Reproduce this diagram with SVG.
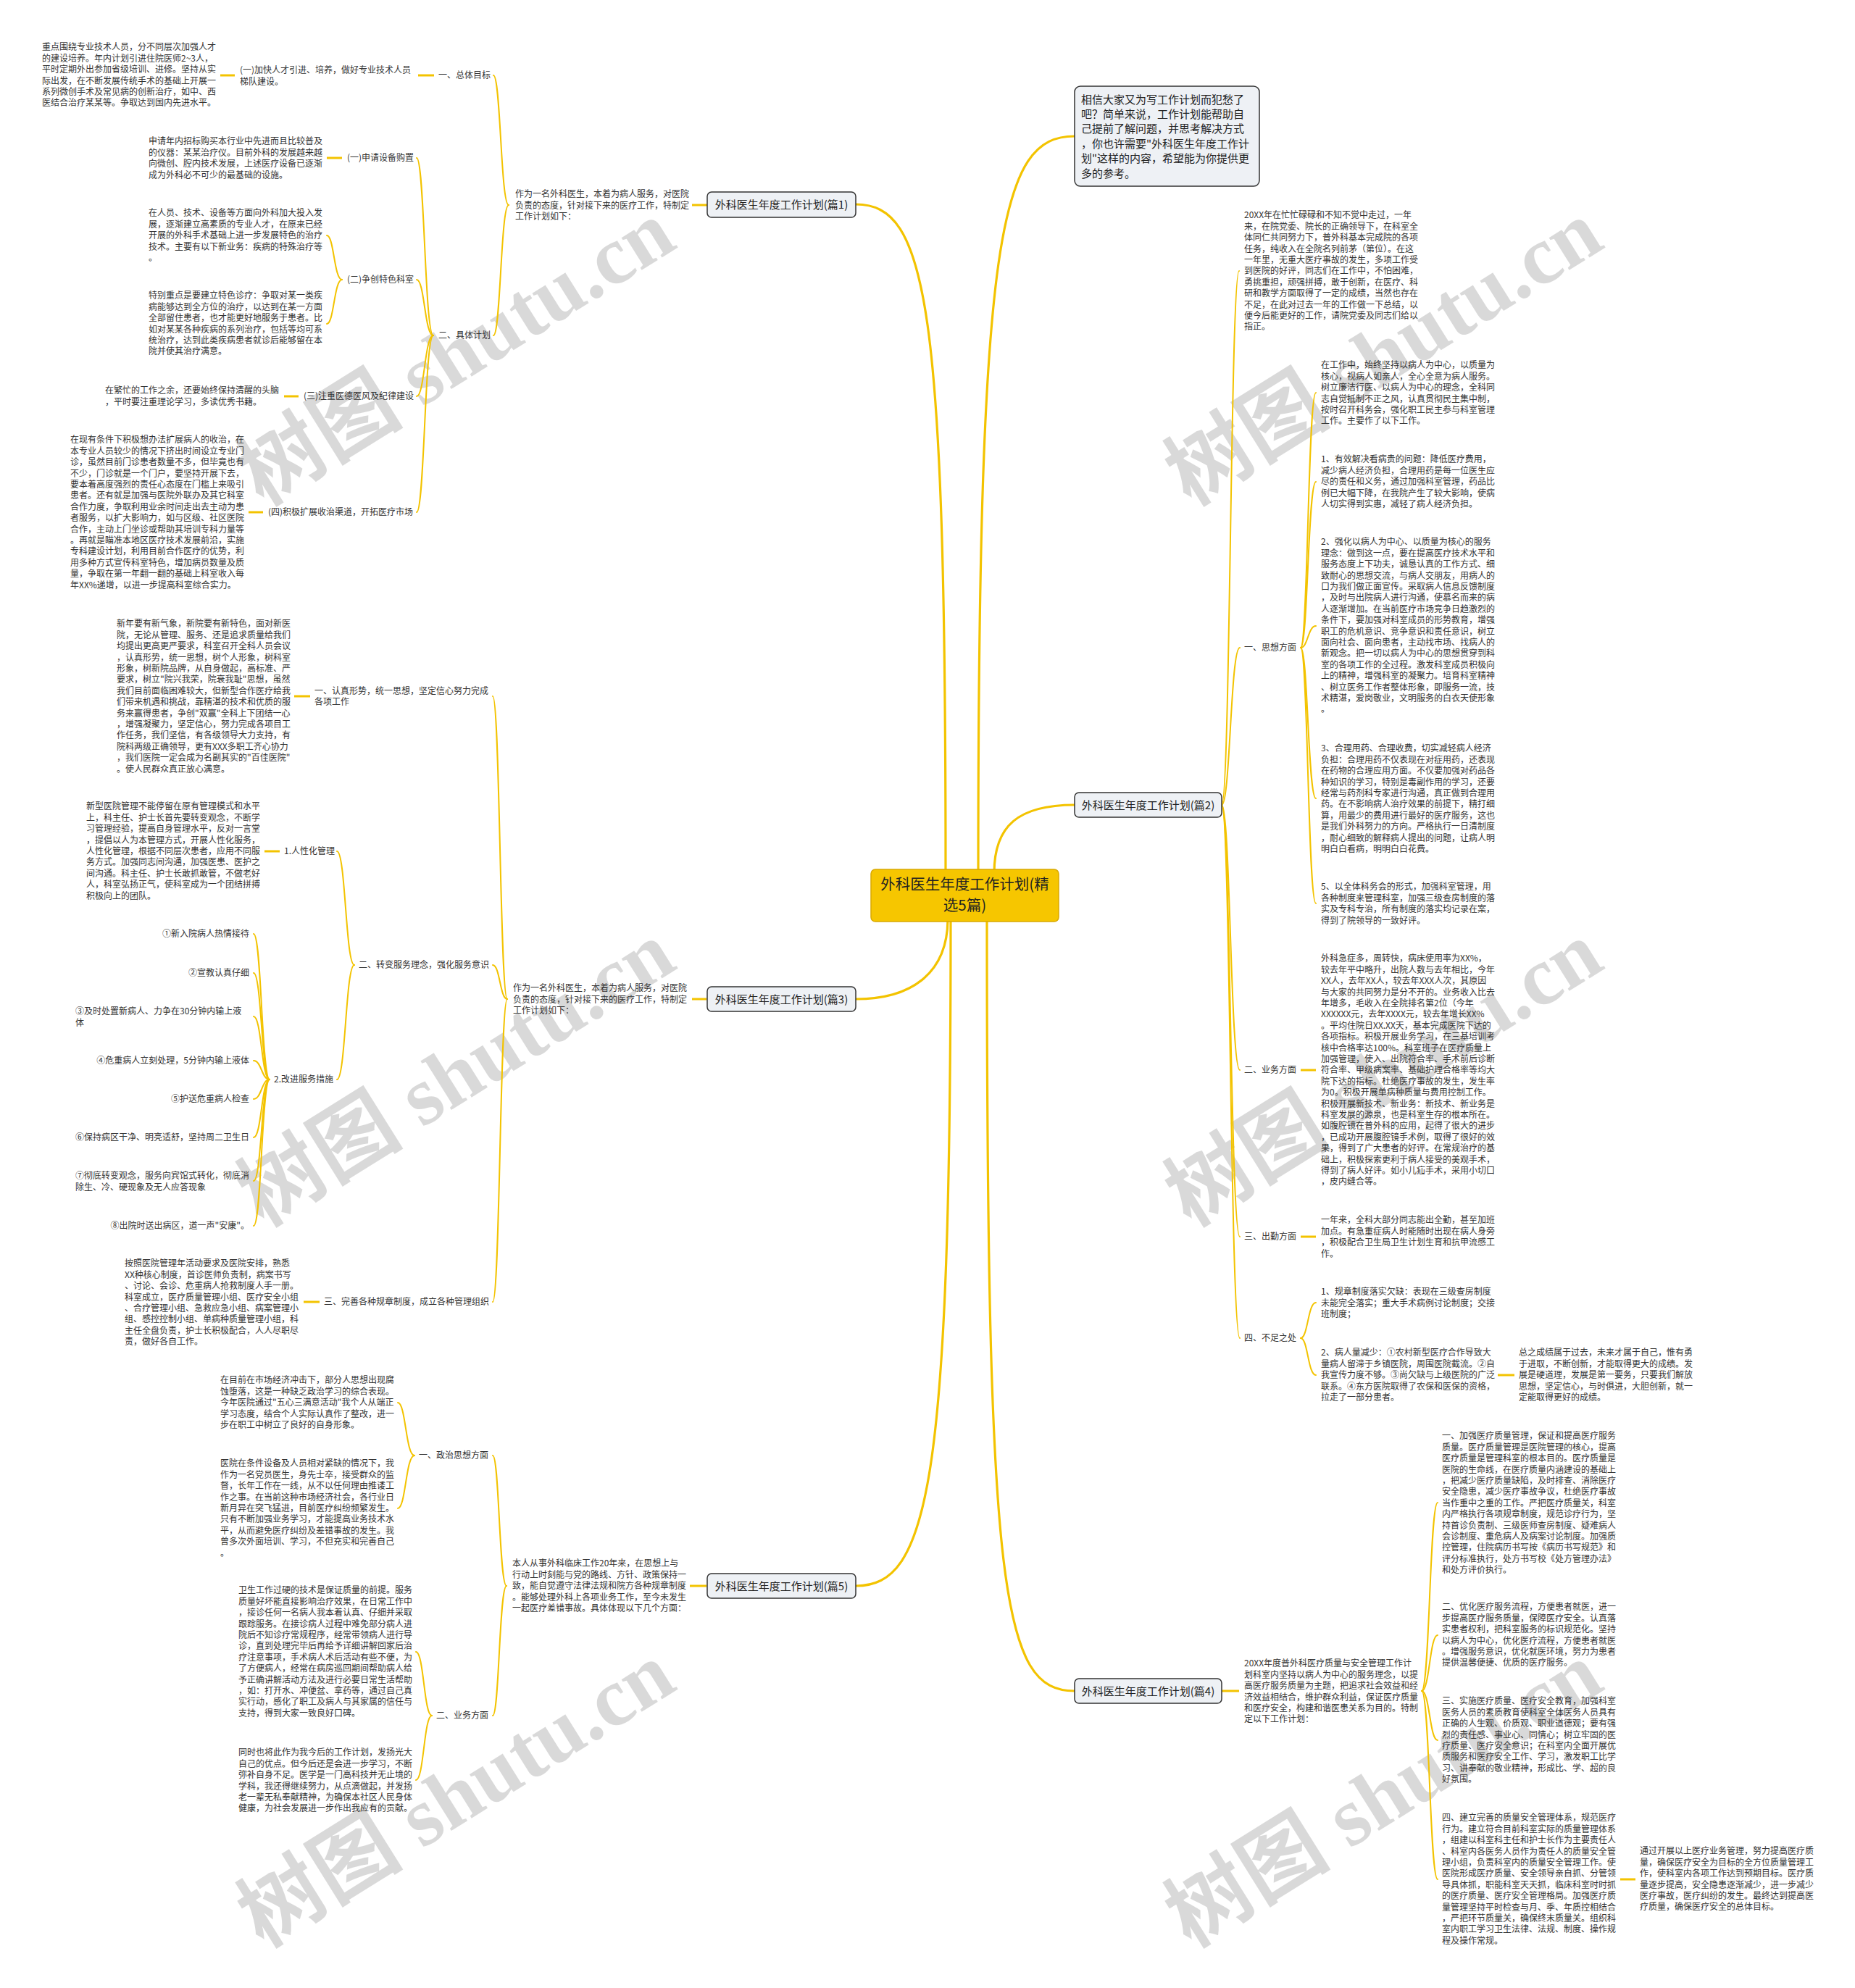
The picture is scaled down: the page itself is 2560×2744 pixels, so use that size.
<svg xmlns="http://www.w3.org/2000/svg" width="2560" height="2744" viewBox="0 0 2560 2744">
<style>
.t{font-family:"Noto Sans CJK SC","Liberation Sans",sans-serif;font-size:12px;fill:#333}
.e{text-anchor:end}
.nt{font-family:"Noto Sans CJK SC","Liberation Sans",sans-serif;font-size:15px;fill:#222;text-anchor:middle}
.ct{font-family:"Noto Sans CJK SC","Liberation Sans",sans-serif;font-size:20.5px;fill:#222;text-anchor:middle}
.bt{font-family:"Noto Sans CJK SC","Liberation Sans",sans-serif;font-size:15px;fill:#222}
.box{fill:#EEF1F5;stroke:#333;stroke-width:1.5}
.c{fill:none;stroke:#F3C300;stroke-width:2;stroke-linecap:round}
.s{fill:none;stroke:#F3C300;stroke-width:3}
.m{fill:none;stroke:#F3C300;stroke-width:3.2;stroke-linecap:round}
.wm{font-family:"Liberation Serif","Noto Sans CJK SC",serif;font-weight:bold;font-size:115px;fill:#000;fill-opacity:0.15;text-anchor:middle}
</style>
<rect width="2560" height="2744" fill="#fff"/>
<g id="watermarks">
<text class="wm" transform="translate(650,520) rotate(-32)">树图 shutu.cn</text>
<text class="wm" transform="translate(1930,520) rotate(-32)">树图 shutu.cn</text>
<text class="wm" transform="translate(650,1515) rotate(-32)">树图 shutu.cn</text>
<text class="wm" transform="translate(1930,1515) rotate(-32)">树图 shutu.cn</text>
<text class="wm" transform="translate(650,2510) rotate(-32)">树图 shutu.cn</text>
<text class="wm" transform="translate(1930,2510) rotate(-32)">树图 shutu.cn</text>
</g>
<g id="connectors">
<path class="m" d="M1181,282 C1280,282 1305,420 1305,1205"/>
<path class="m" d="M1483,188 C1380,188 1350,320 1350,1205"/>
<path class="m" d="M1483,1111 C1405,1111 1372,1140 1372,1205"/>
<path class="m" d="M1181,1379 C1262,1379 1308,1340 1308,1268"/>
<path class="m" d="M1181,2189 C1282,2189 1312,2050 1312,1268"/>
<path class="m" d="M1483,2334 C1382,2334 1362,2200 1362,1268"/>
<path class="s" d="M955,283 H977"/>
<path class="c" d="M702,283 C691,283 691,104 681,104"/>
<path class="c" d="M702,283 C691,283 691,463 681,463"/>
<path class="s" d="M577,104 H599"/>
<path class="s" d="M304,104 H324"/>
<path class="c" d="M598,463 C586,463 586,218 575,218"/>
<path class="c" d="M598,463 C586,463 586,386 575,386"/>
<path class="c" d="M598,463 C586,463 586,547 575,547"/>
<path class="c" d="M598,463 C586,463 586,707 575,707"/>
<path class="s" d="M451,218 H472"/>
<path class="c" d="M472,386 C461,386 461,325 451,325"/>
<path class="c" d="M472,386 C461,386 461,447 451,447"/>
<path class="s" d="M392,547 H412"/>
<path class="s" d="M343,707 H363"/>
<path class="c" d="M1686,1111 C1698,1111 1698,374 1710,374"/>
<path class="c" d="M1686,1111 C1698,1111 1698,894 1711,894"/>
<path class="c" d="M1686,1111 C1698,1111 1698,1477 1711,1477"/>
<path class="c" d="M1686,1111 C1698,1111 1698,1707 1711,1707"/>
<path class="c" d="M1686,1111 C1698,1111 1698,1847 1711,1847"/>
<path class="c" d="M1795,894 C1805,894 1805,542 1816,542"/>
<path class="c" d="M1795,894 C1805,894 1805,665 1816,665"/>
<path class="c" d="M1795,894 C1805,894 1805,864 1816,864"/>
<path class="c" d="M1795,894 C1805,894 1805,1102 1816,1102"/>
<path class="c" d="M1795,894 C1805,894 1805,1247 1816,1247"/>
<path class="s" d="M1795,1477 H1816"/>
<path class="s" d="M1795,1707 H1816"/>
<path class="c" d="M1795,1847 C1805,1847 1805,1798 1816,1798"/>
<path class="c" d="M1795,1847 C1805,1847 1805,1898 1816,1898"/>
<path class="s" d="M2067,1898 H2090"/>
<path class="s" d="M955,1379 H975"/>
<path class="c" d="M700,1379 C690,1379 690,961 680,961"/>
<path class="c" d="M700,1379 C690,1379 690,1332 680,1332"/>
<path class="c" d="M700,1379 C690,1379 690,1797 680,1797"/>
<path class="s" d="M406,961 H428"/>
<path class="c" d="M489,1332 C477,1332 477,1175 465,1175"/>
<path class="c" d="M489,1332 C477,1332 477,1490 465,1490"/>
<path class="s" d="M365,1175 H386"/>
<path class="c" d="M372,1490 C361,1490 361,1289 350,1289"/>
<path class="c" d="M372,1490 C361,1490 361,1343 350,1343"/>
<path class="c" d="M372,1490 C361,1490 361,1403 350,1403"/>
<path class="c" d="M372,1490 C361,1490 361,1464 350,1464"/>
<path class="c" d="M372,1490 C361,1490 361,1517 350,1517"/>
<path class="c" d="M372,1490 C361,1490 361,1570 350,1570"/>
<path class="c" d="M372,1490 C361,1490 361,1630 350,1630"/>
<path class="c" d="M372,1490 C361,1490 361,1692 350,1692"/>
<path class="s" d="M419,1797 H441"/>
<path class="s" d="M952,2189 H975"/>
<path class="c" d="M699,2189 C689,2189 689,2009 680,2009"/>
<path class="c" d="M699,2189 C689,2189 689,2368 680,2368"/>
<path class="c" d="M572,2009 C560,2009 560,1936 549,1936"/>
<path class="c" d="M572,2009 C560,2009 560,2082 549,2082"/>
<path class="c" d="M596,2368 C585,2368 585,2280 574,2280"/>
<path class="c" d="M596,2368 C585,2368 585,2457 574,2457"/>
<path class="s" d="M1686,2334 H1710"/>
<path class="c" d="M1962,2334 C1973,2334 1973,2074 1984,2074"/>
<path class="c" d="M1962,2334 C1973,2334 1973,2257 1984,2257"/>
<path class="c" d="M1962,2334 C1973,2334 1973,2402 1984,2402"/>
<path class="c" d="M1962,2334 C1973,2334 1973,2594 1984,2594"/>
<path class="s" d="M2236,2594 H2257"/>
</g>
<g id="center">
<rect x="1202" y="1200" width="259" height="72" rx="6" fill="#F6C600" stroke="#D9A900" stroke-width="1.5"/>
<text class="ct" x="1331.5" y="1228">外科医生年度工作计划(精</text>
<text class="ct" x="1331.5" y="1257">选5篇)</text>
</g>
<g id="intro-box">
<rect class="box" x="1483" y="119" width="255" height="138" rx="8"/>
<text class="bt" x="1492" y="142.5"><tspan x="1492">相信大家又为写工作计划而犯愁了</tspan><tspan x="1492" dy="20.4">吧？简单来说，工作计划能帮助自</tspan><tspan x="1492" dy="20.4">己提前了解问题，并思考解决方式</tspan><tspan x="1492" dy="20.4">，你也许需要"外科医生年度工作计</tspan><tspan x="1492" dy="20.4">划"这样的内容，希望能为你提供更</tspan><tspan x="1492" dy="20.4">多的参考。</tspan></text>
</g>
<g id="p1">
<rect class="box" x="976" y="265" width="205" height="35" rx="6"/>
<text class="nt" x="1078.5" y="288">外科医生年度工作计划(篇1)</text>
</g>
<g id="p1-intro"><text class="t" x="711" y="272.3"><tspan x="711">作为一名外科医生，本着为病人服务，对医院</tspan><tspan x="711" dy="15.4">负责的态度，针对接下来的医疗工作，特制定</tspan><tspan x="711" dy="15.4">工作计划如下：</tspan></text></g>
<g id="p1-a"><text class="t" x="605" y="108.3">一、总体目标</text></g>
<g id="p1-a1"><text class="t" x="331" y="101.3"><tspan x="331">(一)加快人才引进、培养，做好专业技术人员</tspan><tspan x="331" dy="15.4">梯队建设。</tspan></text></g>
<g id="p1-a1d"><text class="t" x="58" y="69.3"><tspan x="58">重点围绕专业技术人员，分不同层次加强人才</tspan><tspan x="58" dy="15.4">的建设培养。年内计划引进住院医师2~3人，</tspan><tspan x="58" dy="15.4">平时定期外出参加省级培训、进修。坚持从实</tspan><tspan x="58" dy="15.4">际出发，在不断发展传统手术的基础上开展一</tspan><tspan x="58" dy="15.4">系列微创手术及常见病的创新治疗，如中、西</tspan><tspan x="58" dy="15.4">医结合治疗某某等。争取达到国内先进水平。</tspan></text></g>
<g id="p1-b"><text class="t" x="605" y="467.3">二、具体计划</text></g>
<g id="p1-b1"><text class="t" x="479" y="222.3">(一)申请设备购置</text></g>
<g id="p1-b1d"><text class="t" x="205" y="199.3"><tspan x="205">申请年内招标购买本行业中先进而且比较普及</tspan><tspan x="205" dy="15.4">的仪器：某某治疗仪。目前外科的发展越来越</tspan><tspan x="205" dy="15.4">向微创、腔内技术发展，上述医疗设备已逐渐</tspan><tspan x="205" dy="15.4">成为外科必不可少的最基础的设施。</tspan></text></g>
<g id="p1-b2"><text class="t" x="479" y="390.3">(二)争创特色科室</text></g>
<g id="p1-b2d1"><text class="t" x="205" y="298.3"><tspan x="205">在人员、技术、设备等方面向外科加大投入发</tspan><tspan x="205" dy="15.4">展，逐渐建立高素质的专业人才，在原来已经</tspan><tspan x="205" dy="15.4">开展的外科手术基础上进一步发展特色的治疗</tspan><tspan x="205" dy="15.4">技术。主要有以下新业务：疾病的特殊治疗等</tspan><tspan x="205" dy="15.4">。</tspan></text></g>
<g id="p1-b2d2"><text class="t" x="205" y="412.3"><tspan x="205">特别重点是要建立特色诊疗：争取对某一类疾</tspan><tspan x="205" dy="15.4">病能够达到全方位的治疗，以达到在某一方面</tspan><tspan x="205" dy="15.4">全部留住患者，也才能更好地服务于患者。比</tspan><tspan x="205" dy="15.4">如对某某各种疾病的系列治疗，包括等均可系</tspan><tspan x="205" dy="15.4">统治疗，达到此类疾病患者就诊后能够留在本</tspan><tspan x="205" dy="15.4">院并使其治疗满意。</tspan></text></g>
<g id="p1-b3"><text class="t" x="419" y="551.3">(三)注重医德医风及纪律建设</text></g>
<g id="p1-b3d"><text class="t" x="145" y="543.3"><tspan x="145">在繁忙的工作之余，还要始终保持清醒的头脑</tspan><tspan x="145" dy="15.4">，平时要注重理论学习，多读优秀书籍。</tspan></text></g>
<g id="p1-b4"><text class="t" x="370" y="711.3">(四)积极扩展收治渠道，开拓医疗市场</text></g>
<g id="p1-b4d"><text class="t" x="97" y="611.3"><tspan x="97">在现有条件下积极想办法扩展病人的收治，在</tspan><tspan x="97" dy="15.4">本专业人员较少的情况下挤出时间设立专业门</tspan><tspan x="97" dy="15.4">诊，虽然目前门诊患者数量不多，但毕竟也有</tspan><tspan x="97" dy="15.4">不少，门诊就是一个门户，要坚持开展下去，</tspan><tspan x="97" dy="15.4">要本着高度强烈的责任心态度在门槛上来吸引</tspan><tspan x="97" dy="15.4">患者。还有就是加强与医院外联办及其它科室</tspan><tspan x="97" dy="15.4">合作力度，争取利用业余时间走出去主动为患</tspan><tspan x="97" dy="15.4">者服务，以扩大影响力，如与区级、社区医院</tspan><tspan x="97" dy="15.4">合作，主动上门坐诊或帮助其培训专科力量等</tspan><tspan x="97" dy="15.4">。再就是瞄准本地区医疗技术发展前沿，实施</tspan><tspan x="97" dy="15.4">专科建设计划，利用目前合作医疗的优势，利</tspan><tspan x="97" dy="15.4">用多种方式宣传科室特色，增加病员数量及质</tspan><tspan x="97" dy="15.4">量，争取在第一年翻一翻的基础上科室收入每</tspan><tspan x="97" dy="15.4">年XX%递增，以进一步提高科室综合实力。</tspan></text></g>
<g id="p2">
<rect class="box" x="1483" y="1094" width="203" height="34" rx="6"/>
<text class="nt" x="1584.5" y="1116.5">外科医生年度工作计划(篇2)</text>
</g>
<g id="p2-intro"><text class="t" x="1717" y="301.3"><tspan x="1717">20XX年在忙忙碌碌和不知不觉中走过，一年</tspan><tspan x="1717" dy="15.4">来，在院党委、院长的正确领导下，在科室全</tspan><tspan x="1717" dy="15.4">体同仁共同努力下，普外科基本完成院的各项</tspan><tspan x="1717" dy="15.4">任务，纯收入在全院名列前茅（第位）。在这</tspan><tspan x="1717" dy="15.4">一年里，无重大医疗事故的发生，多项工作受</tspan><tspan x="1717" dy="15.4">到医院的好评，同志们在工作中，不怕困难，</tspan><tspan x="1717" dy="15.4">勇挑重担，顽强拼搏，敢于创新，在医疗、科</tspan><tspan x="1717" dy="15.4">研和教学方面取得了一定的成绩，当然也存在</tspan><tspan x="1717" dy="15.4">不足，在此对过去一年的工作做一下总结，以</tspan><tspan x="1717" dy="15.4">便今后能更好的工作，请院党委及同志们给以</tspan><tspan x="1717" dy="15.4">指正。</tspan></text></g>
<g id="p2-a"><text class="t" x="1717" y="898.3">一、思想方面</text></g>
<g id="p2-a0"><text class="t" x="1823" y="508.3"><tspan x="1823">在工作中，始终坚持以病人为中心，以质量为</tspan><tspan x="1823" dy="15.4">核心，视病人如亲人，全心全意为病人服务。</tspan><tspan x="1823" dy="15.4">树立廉洁行医、以病人为中心的理念，全科同</tspan><tspan x="1823" dy="15.4">志自觉抵制不正之风，认真贯彻民主集中制，</tspan><tspan x="1823" dy="15.4">按时召开科务会，强化职工民主参与科室管理</tspan><tspan x="1823" dy="15.4">工作。主要作了以下工作。</tspan></text></g>
<g id="p2-a1"><text class="t" x="1823" y="638.3"><tspan x="1823">1、有效解决看病贵的问题：降低医疗费用，</tspan><tspan x="1823" dy="15.4">减少病人经济负担，合理用药是每一位医生应</tspan><tspan x="1823" dy="15.4">尽的责任和义务，通过加强科室管理，药品比</tspan><tspan x="1823" dy="15.4">例已大幅下降，在我院产生了较大影响，使病</tspan><tspan x="1823" dy="15.4">人切实得到实惠，减轻了病人经济负担。</tspan></text></g>
<g id="p2-a2"><text class="t" x="1823" y="752.3"><tspan x="1823">2、强化以病人为中心、以质量为核心的服务</tspan><tspan x="1823" dy="15.4">理念：做到这一点，要在提高医疗技术水平和</tspan><tspan x="1823" dy="15.4">服务态度上下功夫，诚恳认真的工作方式、细</tspan><tspan x="1823" dy="15.4">致耐心的思想交流，与病人交朋友，用病人的</tspan><tspan x="1823" dy="15.4">口为我们做正面宣传。采取病人信息反馈制度</tspan><tspan x="1823" dy="15.4">，及时与出院病人进行沟通，使慕名而来的病</tspan><tspan x="1823" dy="15.4">人逐渐增加。在当前医疗市场竞争日趋激烈的</tspan><tspan x="1823" dy="15.4">条件下，要加强对科室成员的形势教育，增强</tspan><tspan x="1823" dy="15.4">职工的危机意识、竞争意识和责任意识，树立</tspan><tspan x="1823" dy="15.4">面向社会、面向患者，主动找市场、找病人的</tspan><tspan x="1823" dy="15.4">新观念。把一切以病人为中心的思想贯穿到科</tspan><tspan x="1823" dy="15.4">室的各项工作的全过程。激发科室成员积极向</tspan><tspan x="1823" dy="15.4">上的精神，增强科室的凝聚力。培育科室精神</tspan><tspan x="1823" dy="15.4">、树立医务工作者整体形象，即服务一流，技</tspan><tspan x="1823" dy="15.4">术精湛，爱岗敬业，文明服务的白衣天使形象</tspan><tspan x="1823" dy="15.4">。</tspan></text></g>
<g id="p2-a3"><text class="t" x="1823" y="1037.3"><tspan x="1823">3、合理用药、合理收费，切实减轻病人经济</tspan><tspan x="1823" dy="15.4">负担：合理用药不仅表现在对症用药，还表现</tspan><tspan x="1823" dy="15.4">在药物的合理应用方面。不仅要加强对药品各</tspan><tspan x="1823" dy="15.4">种知识的学习，特别是毒副作用的学习，还要</tspan><tspan x="1823" dy="15.4">经常与药剂科专家进行沟通，真正做到合理用</tspan><tspan x="1823" dy="15.4">药。在不影响病人治疗效果的前提下，精打细</tspan><tspan x="1823" dy="15.4">算，用最少的费用进行最好的医疗服务，这也</tspan><tspan x="1823" dy="15.4">是我们外科努力的方向。严格执行一日清制度</tspan><tspan x="1823" dy="15.4">，耐心细致的解释病人提出的问题，让病人明</tspan><tspan x="1823" dy="15.4">明白白看病，明明白白花费。</tspan></text></g>
<g id="p2-a5"><text class="t" x="1823" y="1228.3"><tspan x="1823">5、以全体科务会的形式，加强科室管理，用</tspan><tspan x="1823" dy="15.4">各种制度来管理科室，加强三级查房制度的落</tspan><tspan x="1823" dy="15.4">实及专科专治，所有制度的落实均记录在案，</tspan><tspan x="1823" dy="15.4">得到了院领导的一致好评。</tspan></text></g>
<g id="p2-b"><text class="t" x="1717" y="1481.3">二、业务方面</text></g>
<g id="p2-b1"><text class="t" x="1823" y="1327.3"><tspan x="1823">外科急症多，周转快，病床使用率为XX%，</tspan><tspan x="1823" dy="15.4">较去年平中略升，出院人数与去年相比，今年</tspan><tspan x="1823" dy="15.4">XX人，去年XX人，较去年XXX人次，其原因</tspan><tspan x="1823" dy="15.4">与大家的共同努力是分不开的。业务收入比去</tspan><tspan x="1823" dy="15.4">年增多，毛收入在全院排名第2位（今年</tspan><tspan x="1823" dy="15.4">XXXXXX元，去年XXXX元，较去年增长XX%</tspan><tspan x="1823" dy="15.4">。平均住院日XX.XX天，基本完成医院下达的</tspan><tspan x="1823" dy="15.4">各项指标。积极开展业务学习，在三基培训考</tspan><tspan x="1823" dy="15.4">核中合格率达100%。科室班子在医疗质量上</tspan><tspan x="1823" dy="15.4">加强管理，使入、出院符合率、手术前后诊断</tspan><tspan x="1823" dy="15.4">符合率、甲级病案率、基础护理合格率等均大</tspan><tspan x="1823" dy="15.4">院下达的指标。杜绝医疗事故的发生，发生率</tspan><tspan x="1823" dy="15.4">为0。积极开展单病种质量与费用控制工作。</tspan><tspan x="1823" dy="15.4">积极开展新技术、新业务：新技术、新业务是</tspan><tspan x="1823" dy="15.4">科室发展的源泉，也是科室生存的根本所在。</tspan><tspan x="1823" dy="15.4">如腹腔镜在普外科的应用，起得了很大的进步</tspan><tspan x="1823" dy="15.4">，已成功开展腹腔镜手术例，取得了很好的效</tspan><tspan x="1823" dy="15.4">果，得到了广大患者的好评。在常规治疗的基</tspan><tspan x="1823" dy="15.4">础上，积极探索更利于病人接受的美观手术，</tspan><tspan x="1823" dy="15.4">得到了病人好评。如小儿疝手术，采用小切口</tspan><tspan x="1823" dy="15.4">，皮内缝合等。</tspan></text></g>
<g id="p2-c"><text class="t" x="1717" y="1711.3">三、出勤方面</text></g>
<g id="p2-c1"><text class="t" x="1823" y="1688.3"><tspan x="1823">一年来，全科大部分同志能出全勤，甚至加班</tspan><tspan x="1823" dy="15.4">加点。有急重症病人时能随时出现在病人身旁</tspan><tspan x="1823" dy="15.4">，积极配合卫生局卫生计划生育和抗甲流感工</tspan><tspan x="1823" dy="15.4">作。</tspan></text></g>
<g id="p2-d"><text class="t" x="1717" y="1851.3">四、不足之处</text></g>
<g id="p2-d1"><text class="t" x="1823" y="1787.3"><tspan x="1823">1、规章制度落实欠缺：表现在三级查房制度</tspan><tspan x="1823" dy="15.4">未能完全落实；重大手术病例讨论制度；交接</tspan><tspan x="1823" dy="15.4">班制度；</tspan></text></g>
<g id="p2-d2"><text class="t" x="1823" y="1871.3"><tspan x="1823">2、病人量减少：①农村新型医疗合作导致大</tspan><tspan x="1823" dy="15.4">量病人留滞于乡镇医院，周围医院截流。②自</tspan><tspan x="1823" dy="15.4">我宣传力度不够。③尚欠缺与上级医院的广泛</tspan><tspan x="1823" dy="15.4">联系。④东方医院取得了农保和医保的资格，</tspan><tspan x="1823" dy="15.4">拉走了一部分患者。</tspan></text></g>
<g id="p2-d3"><text class="t" x="2096" y="1871.3"><tspan x="2096">总之成绩属于过去，未来才属于自己，惟有勇</tspan><tspan x="2096" dy="15.4">于进取，不断创新，才能取得更大的成绩。发</tspan><tspan x="2096" dy="15.4">展是硬道理，发展是第一要务，只要我们解放</tspan><tspan x="2096" dy="15.4">思想，坚定信心，与时俱进，大胆创新，就一</tspan><tspan x="2096" dy="15.4">定能取得更好的成绩。</tspan></text></g>
<g id="p3">
<rect class="box" x="976" y="1362" width="205" height="34" rx="6"/>
<text class="nt" x="1078.5" y="1384.5">外科医生年度工作计划(篇3)</text>
</g>
<g id="p3-intro"><text class="t" x="708" y="1368.3"><tspan x="708">作为一名外科医生，本着为病人服务，对医院</tspan><tspan x="708" dy="15.4">负责的态度，针对接下来的医疗工作，特制定</tspan><tspan x="708" dy="15.4">工作计划如下：</tspan></text></g>
<g id="p3-a"><text class="t" x="434" y="957.8"><tspan x="434">一、认真形势，统一思想，坚定信心努力完成</tspan><tspan x="434" dy="15.4">各项工作</tspan></text></g>
<g id="p3-a1"><text class="t" x="161" y="865.3"><tspan x="161">新年要有新气象，新院要有新特色，面对新医</tspan><tspan x="161" dy="15.4">院，无论从管理、服务、还是追求质量给我们</tspan><tspan x="161" dy="15.4">均提出更高更严要求，科室召开全科人员会议</tspan><tspan x="161" dy="15.4">，认真形势，统一思想，树个人形象，树科室</tspan><tspan x="161" dy="15.4">形象，树新院品牌，从自身做起，高标准、严</tspan><tspan x="161" dy="15.4">要求，树立"院兴我荣，院衰我耻"思想，虽然</tspan><tspan x="161" dy="15.4">我们目前面临困难较大，但新型合作医疗给我</tspan><tspan x="161" dy="15.4">们带来机遇和挑战，靠精湛的技术和优质的服</tspan><tspan x="161" dy="15.4">务来赢得患者，争创"双赢"全科上下团结一心</tspan><tspan x="161" dy="15.4">，增强凝聚力，坚定信心，努力完成各项目工</tspan><tspan x="161" dy="15.4">作任务，我们坚信，有各级领导大力支持，有</tspan><tspan x="161" dy="15.4">院科两级正确领导，更有XXX多职工齐心协力</tspan><tspan x="161" dy="15.4">，我们医院一定会成为名副其实的"百佳医院"</tspan><tspan x="161" dy="15.4">。使人民群众真正放心满意。</tspan></text></g>
<g id="p3-b"><text class="t" x="495" y="1336.3">二、转变服务理念，强化服务意识</text></g>
<g id="p3-b1"><text class="t" x="392" y="1179.3">1.人性化管理</text></g>
<g id="p3-b1d"><text class="t" x="119" y="1117.3"><tspan x="119">新型医院管理不能停留在原有管理模式和水平</tspan><tspan x="119" dy="15.4">上，科主任、护士长首先要转变观念，不断学</tspan><tspan x="119" dy="15.4">习管理经验，提高自身管理水平，反对一言堂</tspan><tspan x="119" dy="15.4">，提倡以人为本管理方式，开展人性化服务，</tspan><tspan x="119" dy="15.4">人性化管理，根据不同层次患者，应用不同服</tspan><tspan x="119" dy="15.4">务方式。加强同志间沟通，加强医患、医护之</tspan><tspan x="119" dy="15.4">间沟通。科主任、护士长敢抓敢管，不做老好</tspan><tspan x="119" dy="15.4">人，科室弘扬正气，使科室成为一个团结拼搏</tspan><tspan x="119" dy="15.4">积极向上的团队。</tspan></text></g>
<g id="p3-b2"><text class="t" x="378" y="1494.3">2.改进服务措施</text></g>
<g id="p3-b2-1"><text class="t e" x="344" y="1293.3">①新入院病人热情接待</text></g>
<g id="p3-b2-2"><text class="t e" x="344" y="1347.3">②宣教认真仔细</text></g>
<g id="p3-b2-3"><text class="t" x="104" y="1400.3"><tspan x="104">③及时处置新病人、力争在30分钟内输上液</tspan><tspan x="104" dy="15.4">体</tspan></text></g>
<g id="p3-b2-4"><text class="t e" x="344" y="1468.3">④危重病人立刻处理，5分钟内输上液体</text></g>
<g id="p3-b2-5"><text class="t e" x="344" y="1521.3">⑤护送危重病人检查</text></g>
<g id="p3-b2-6"><text class="t" x="104" y="1574.3">⑥保持病区干净、明亮适舒，坚持周二卫生日</text></g>
<g id="p3-b2-7"><text class="t" x="104" y="1627.3"><tspan x="104">⑦彻底转变观念，服务向宾馆式转化，彻底消</tspan><tspan x="104" dy="15.4">除生、冷、硬现象及无人应答现象</tspan></text></g>
<g id="p3-b2-8"><text class="t e" x="344" y="1696.3">⑧出院时送出病区，道一声"安康"。</text></g>
<g id="p3-c"><text class="t" x="447" y="1801.3">三、完善各种规章制度，成立各种管理组织</text></g>
<g id="p3-c1"><text class="t" x="172" y="1748.3"><tspan x="172">按照医院管理年活动要求及医院安排，熟悉</tspan><tspan x="172" dy="15.4">XX种核心制度，首诊医师负责制，病案书写</tspan><tspan x="172" dy="15.4">、讨论、会诊、危重病人抢救制度人手一册。</tspan><tspan x="172" dy="15.4">科室成立，医疗质量管理小组、医疗安全小组</tspan><tspan x="172" dy="15.4">、合疗管理小组、急救应急小组、病案管理小</tspan><tspan x="172" dy="15.4">组、感控控制小组、单病种质量管理小组，科</tspan><tspan x="172" dy="15.4">主任全盘负责，护士长积极配合，人人尽职尽</tspan><tspan x="172" dy="15.4">责，做好各自工作。</tspan></text></g>
<g id="p5">
<rect class="box" x="976" y="2172" width="205" height="34" rx="6"/>
<text class="nt" x="1078.5" y="2194.5">外科医生年度工作计划(篇5)</text>
</g>
<g id="p5-intro"><text class="t" x="707" y="2162.3"><tspan x="707">本人从事外科临床工作20年来，在思想上与</tspan><tspan x="707" dy="15.4">行动上时刻能与党的路线、方针、政策保持一</tspan><tspan x="707" dy="15.4">致，能自觉遵守法律法规和院方各种规章制度</tspan><tspan x="707" dy="15.4">。能够处理外科上各项业务工作，至今未发生</tspan><tspan x="707" dy="15.4">一起医疗差错事故。具体体现以下几个方面：</tspan></text></g>
<g id="p5-a"><text class="t" x="578" y="2013.3">一、政治思想方面</text></g>
<g id="p5-a1"><text class="t" x="304" y="1909.3"><tspan x="304">在目前在市场经济冲击下，部分人思想出现腐</tspan><tspan x="304" dy="15.4">蚀堕落，这是一种缺乏政治学习的综合表现。</tspan><tspan x="304" dy="15.4">今年医院通过"五心三满意活动"我个人从端正</tspan><tspan x="304" dy="15.4">学习态度，结合个人实际认真作了整改，进一</tspan><tspan x="304" dy="15.4">步在职工中树立了良好的自身形象。</tspan></text></g>
<g id="p5-a2"><text class="t" x="304" y="2024.3"><tspan x="304">医院在条件设备及人员相对紧缺的情况下，我</tspan><tspan x="304" dy="15.4">作为一名党员医生，身先士卒，接受群众的监</tspan><tspan x="304" dy="15.4">督，长年工作在一线，从不以任何理由推诿工</tspan><tspan x="304" dy="15.4">作之事。在当前这种市场经济社会，各行业日</tspan><tspan x="304" dy="15.4">新月异在突飞猛进，目前医疗纠纷频繁发生。</tspan><tspan x="304" dy="15.4">只有不断加强业务学习，才能提高业务技术水</tspan><tspan x="304" dy="15.4">平，从而避免医疗纠纷及差错事故的发生。我</tspan><tspan x="304" dy="15.4">曾多次外面培训、学习，不但充实和完善自己</tspan><tspan x="304" dy="15.4">。</tspan></text></g>
<g id="p5-b"><text class="t" x="602" y="2372.3">二、业务方面</text></g>
<g id="p5-b1"><text class="t" x="329" y="2199.3"><tspan x="329">卫生工作过硬的技术是保证质量的前提。服务</tspan><tspan x="329" dy="15.4">质量好坏能直接影响治疗效果，在日常工作中</tspan><tspan x="329" dy="15.4">，接诊任何一名病人我本着认真、仔细并采取</tspan><tspan x="329" dy="15.4">跟踪服务。在接诊病人过程中难免部分病人进</tspan><tspan x="329" dy="15.4">院后不知诊疗常规程序，经常带领病人进行导</tspan><tspan x="329" dy="15.4">诊，直到处理完毕后再给予详细讲解回家后治</tspan><tspan x="329" dy="15.4">疗注意事项，手术病人术后活动有些不便，为</tspan><tspan x="329" dy="15.4">了方便病人，经常在病房巡回期间帮助病人给</tspan><tspan x="329" dy="15.4">予正确讲解活动方法及进行必要日常生活帮助</tspan><tspan x="329" dy="15.4">，如：打开水、冲便盆、拿药等，通过自己真</tspan><tspan x="329" dy="15.4">实行动，感化了职工及病人与其家属的信任与</tspan><tspan x="329" dy="15.4">支持，得到大家一致良好口碑。</tspan></text></g>
<g id="p5-b2"><text class="t" x="329" y="2423.3"><tspan x="329">同时也将此作为我今后的工作计划，发扬光大</tspan><tspan x="329" dy="15.4">自己的优点。但今后还是会进一步学习，不断</tspan><tspan x="329" dy="15.4">弥补自身不足。医学是一门高科技并无止境的</tspan><tspan x="329" dy="15.4">学科，我还得继续努力，从点滴做起，并发扬</tspan><tspan x="329" dy="15.4">老一辈无私奉献精神，为确保本社区人民身体</tspan><tspan x="329" dy="15.4">健康，为社会发展进一步作出我应有的贡献。</tspan></text></g>
<g id="p4">
<rect class="box" x="1483" y="2317" width="203" height="34" rx="6"/>
<text class="nt" x="1584.5" y="2339.5">外科医生年度工作计划(篇4)</text>
</g>
<g id="p4-intro"><text class="t" x="1717" y="2300.3"><tspan x="1717">20XX年度普外科医疗质量与安全管理工作计</tspan><tspan x="1717" dy="15.4">划科室内坚持以病人为中心的服务理念，以提</tspan><tspan x="1717" dy="15.4">高医疗服务质量为主题，把追求社会效益和经</tspan><tspan x="1717" dy="15.4">济效益相结合，维护群众利益，保证医疗质量</tspan><tspan x="1717" dy="15.4">和医疗安全，构建和谐医患关系为目的。特制</tspan><tspan x="1717" dy="15.4">定以下工作计划：</tspan></text></g>
<g id="p4-a"><text class="t" x="1990" y="1986.3"><tspan x="1990">一、加强医疗质量管理，保证和提高医疗服务</tspan><tspan x="1990" dy="15.4">质量。医疗质量管理是医院管理的核心，提高</tspan><tspan x="1990" dy="15.4">医疗质量是管理科室的根本目的。医疗质量是</tspan><tspan x="1990" dy="15.4">医院的生命线，在医疗质量内涵建设的基础上</tspan><tspan x="1990" dy="15.4">，把减少医疗质量缺陷，及时排查、消除医疗</tspan><tspan x="1990" dy="15.4">安全隐患，减少医疗事故争议，杜绝医疗事故</tspan><tspan x="1990" dy="15.4">当作重中之重的工作。严把医疗质量关，科室</tspan><tspan x="1990" dy="15.4">内严格执行各项规章制度，规范诊疗行为，坚</tspan><tspan x="1990" dy="15.4">持首诊负责制、三级医师查房制度、疑难病人</tspan><tspan x="1990" dy="15.4">会诊制度、重危病人及病案讨论制度。加强质</tspan><tspan x="1990" dy="15.4">控管理，住院病历书写按《病历书写规范》和</tspan><tspan x="1990" dy="15.4">评分标准执行，处方书写校《处方管理办法》</tspan><tspan x="1990" dy="15.4">和处方评价执行。</tspan></text></g>
<g id="p4-b"><text class="t" x="1990" y="2222.3"><tspan x="1990">二、优化医疗服务流程，方便患者就医，进一</tspan><tspan x="1990" dy="15.4">步提高医疗服务质量，保障医疗安全。认真落</tspan><tspan x="1990" dy="15.4">实患者权利，把科室服务的标识规范化。坚持</tspan><tspan x="1990" dy="15.4">以病人为中心，优化医疗流程，方便患者就医</tspan><tspan x="1990" dy="15.4">。增强服务意识，优化就医环境，努力为患者</tspan><tspan x="1990" dy="15.4">提供温馨便捷、优质的医疗服务。</tspan></text></g>
<g id="p4-c"><text class="t" x="1990" y="2352.3"><tspan x="1990">三、实施医疗质量、医疗安全教育，加强科室</tspan><tspan x="1990" dy="15.4">医务人员的素质教育使科室全体医务人员具有</tspan><tspan x="1990" dy="15.4">正确的人生观、价质观、职业道德观；要有强</tspan><tspan x="1990" dy="15.4">烈的责任感、事业心、同情心；树立牢固的医</tspan><tspan x="1990" dy="15.4">疗质量、医疗安全意识；在科室内全面开展优</tspan><tspan x="1990" dy="15.4">质服务和医疗安全工作、学习，激发职工比学</tspan><tspan x="1990" dy="15.4">习、讲奉献的敬业精神，形成比、学、超的良</tspan><tspan x="1990" dy="15.4">好氛围。</tspan></text></g>
<g id="p4-d"><text class="t" x="1990" y="2513.3"><tspan x="1990">四、建立完善的质量安全管理体系，规范医疗</tspan><tspan x="1990" dy="15.4">行为。建立符合目前科室实际的质量管理体系</tspan><tspan x="1990" dy="15.4">，组建以科室科主任和护士长作为主要责任人</tspan><tspan x="1990" dy="15.4">、科室内各医务人员作为责任人的质量安全管</tspan><tspan x="1990" dy="15.4">理小组，负责科室内的质量安全管理工作。使</tspan><tspan x="1990" dy="15.4">医院形成医疗质量、安全领导亲自抓、分管领</tspan><tspan x="1990" dy="15.4">导具体抓，职能科室天天抓，临床科室时时抓</tspan><tspan x="1990" dy="15.4">的医疗质量、医疗安全管理格局。加强医疗质</tspan><tspan x="1990" dy="15.4">量管理坚持平时检查与月、季、年质控相结合</tspan><tspan x="1990" dy="15.4">，严把环节质量关，确保终末质量关。组织科</tspan><tspan x="1990" dy="15.4">室内职工学习卫生法律、法规、制度、操作规</tspan><tspan x="1990" dy="15.4">程及操作常规。</tspan></text></g>
<g id="p4-d1"><text class="t" x="2263" y="2559.3"><tspan x="2263">通过开展以上医疗业务管理，努力提高医疗质</tspan><tspan x="2263" dy="15.4">量，确保医疗安全为目标的全方位质量管理工</tspan><tspan x="2263" dy="15.4">作，使科室内各项工作达到预期目标。医疗质</tspan><tspan x="2263" dy="15.4">量逐步提高，安全隐患逐渐减少，进一步减少</tspan><tspan x="2263" dy="15.4">医疗事故，医疗纠纷的发生。最终达到提高医</tspan><tspan x="2263" dy="15.4">疗质量，确保医疗安全的总体目标。</tspan></text></g>
</svg>
